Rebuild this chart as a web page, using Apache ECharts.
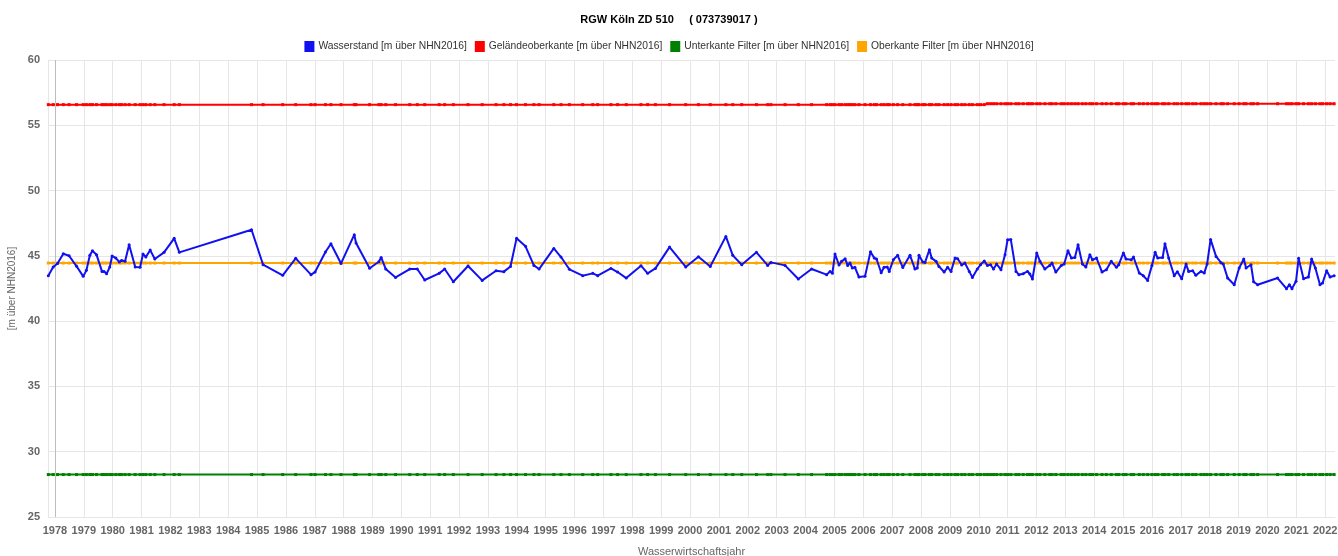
<!DOCTYPE html>
<html>
<head>
<meta charset="utf-8">
<title>RGW Köln ZD 510</title>
<script src="https://cdn.jsdelivr.net/npm/echarts@6/dist/echarts.min.js"></script>
<style>
    html, body { margin: 0; padding: 0; background: #fff; }
    #chart { width: 1338px; height: 556px; }
</style>
</head>
<body>
<div id="chart"></div>
<script>
// measurement dates as decimal years
const dates = [
    1977.77, 1977.94, 1978.09, 1978.29, 1978.49, 1978.75, 1978.98, 1979.09, 1979.21, 1979.30,
    1979.44, 1979.63, 1979.70, 1979.79, 1979.90, 1979.98, 1980.11, 1980.23, 1980.31, 1980.43,
    1980.57, 1980.78, 1980.95, 1981.05, 1981.15, 1981.30, 1981.46, 1981.78, 1982.13, 1982.31,
    1984.81, 1985.21, 1985.89, 1986.34, 1986.87, 1987.01, 1987.37, 1987.56, 1987.91, 1988.37,
    1988.43, 1988.90, 1989.22, 1989.30, 1989.46, 1989.80, 1990.29, 1990.55, 1990.81, 1991.31,
    1991.50, 1991.80, 1992.31, 1992.80, 1993.28, 1993.55, 1993.78, 1993.99, 1994.30, 1994.59,
    1994.77, 1995.28, 1995.53, 1995.82, 1996.28, 1996.63, 1996.80, 1997.26, 1997.49, 1997.79,
    1998.30, 1998.53, 1998.80, 1999.29, 1999.85, 2000.29, 2000.70, 2001.24, 2001.48, 2001.79,
    2002.30, 2002.69, 2002.80, 2003.29, 2003.75, 2004.21, 2004.73, 2004.85, 2004.93, 2005.02,
    2005.16, 2005.25, 2005.37, 2005.46, 2005.54, 2005.62, 2005.71, 2005.85, 2006.06, 2006.25,
    2006.38, 2006.46, 2006.62, 2006.72, 2006.83, 2006.90, 2007.04, 2007.19, 2007.37, 2007.62,
    2007.79, 2007.87, 2007.93, 2008.06, 2008.14, 2008.29, 2008.37, 2008.52, 2008.62, 2008.80,
    2008.92, 2009.04, 2009.18, 2009.27, 2009.41, 2009.52, 2009.67, 2009.78, 2009.95, 2010.06,
    2010.19, 2010.30, 2010.41, 2010.51, 2010.62, 2010.77, 2010.91, 2011.00, 2011.11, 2011.29,
    2011.39, 2011.54, 2011.69, 2011.77, 2011.86, 2012.01, 2012.12, 2012.29, 2012.46, 2012.54,
    2012.67, 2012.86, 2012.96, 2013.09, 2013.21, 2013.33, 2013.44, 2013.59, 2013.71, 2013.85,
    2013.94, 2014.08, 2014.27, 2014.42, 2014.59, 2014.77, 2014.85, 2015.01, 2015.10, 2015.28,
    2015.36, 2015.56, 2015.70, 2015.85, 2016.00, 2016.11, 2016.20, 2016.37, 2016.45, 2016.58,
    2016.77, 2016.88, 2017.03, 2017.18, 2017.27, 2017.41, 2017.52, 2017.70, 2017.81, 2017.91,
    2018.03, 2018.22, 2018.39, 2018.47, 2018.62, 2018.85, 2019.02, 2019.18, 2019.26, 2019.43,
    2019.52, 2019.66, 2020.35, 2020.66, 2020.76, 2020.85, 2020.99, 2021.08, 2021.25, 2021.42,
    2021.53, 2021.66, 2021.82, 2021.91, 2022.05, 2022.17, 2022.31
];

// Wasserstand [m über NHN2016]
const wasserstand = [
    43.48, 44.14, 44.42, 45.16, 45.01, 44.20, 43.43, 43.89, 45.04, 45.39,
    45.09, 43.81, 43.81, 43.63, 44.14, 44.99, 44.83, 44.53, 44.65, 44.58,
    45.85, 44.14, 44.12, 45.14, 44.91, 45.44, 44.76, 45.27, 46.34, 45.27,
    47.00, 44.32, 43.51, 44.81, 43.56, 43.76, 45.29, 45.93, 44.42, 46.62,
    45.98, 44.05, 44.55, 44.88, 43.99, 43.35, 43.99, 43.99, 43.15, 43.66,
    43.99, 43.02, 44.22, 43.12, 43.86, 43.79, 44.19, 46.34, 45.73, 44.27,
    43.99, 45.57, 44.91, 43.97, 43.48, 43.66, 43.48, 44.04, 43.76, 43.30,
    44.25, 43.66, 44.04, 45.67, 44.15, 44.93, 44.19, 46.49, 45.04, 44.32,
    45.27, 44.27, 44.50, 44.27, 43.23, 43.99, 43.56, 43.81, 43.66, 45.14,
    44.30, 44.58, 44.78, 44.27, 44.45, 44.07, 44.12, 43.38, 43.43, 45.32,
    44.83, 44.76, 43.71, 44.12, 44.14, 43.81, 44.70, 45.04, 44.10, 45.04,
    43.99, 44.07, 45.04, 44.53, 44.50, 45.47, 44.83, 44.58, 44.19, 43.76,
    44.12, 43.81, 44.83, 44.78, 44.30, 44.45, 43.81, 43.35, 43.99, 44.32,
    44.60, 44.27, 44.32, 43.99, 44.37, 43.94, 45.09, 46.24, 46.26, 43.81,
    43.56, 43.63, 43.81, 43.61, 43.23, 45.22, 44.58, 43.99, 44.27, 44.45,
    43.76, 44.27, 44.37, 45.39, 44.83, 44.88, 45.85, 44.37, 44.14, 45.09,
    44.70, 44.83, 43.76, 43.94, 44.58, 44.12, 44.32, 45.22, 44.76, 44.70,
    44.91, 43.68, 43.48, 43.12, 44.27, 45.27, 44.83, 44.88, 45.93, 44.83,
    43.48, 43.79, 43.25, 44.37, 43.81, 43.86, 43.51, 43.81, 43.68, 44.37,
    46.26, 44.96, 44.48, 44.37, 43.30, 42.79, 44.07, 44.76, 44.07, 44.32,
    43.02, 42.79, 43.30, 42.49, 42.79, 42.49, 43.05, 44.81, 43.25, 43.38,
    44.76, 44.07, 42.79, 42.92, 43.86, 43.38, 43.48
];

// fixed levels of the well
const gelaendeAlt = 56.58;     // Geländeoberkante before re-survey
const gelaendeNeu = 56.65;     // Geländeoberkante after re-survey
const gelaendeWechsel = 2010.30;
const unterkanteFilter = 28.25;
const oberkanteFilter = 44.45;

const yearTicks = [];
for (let y = 1978; y <= 2022; y++) yearTicks.push(y);

const seriesNames = [
    'Wasserstand [m über NHN2016]',
    'Geländeoberkante [m über NHN2016]',
    'Unterkante Filter [m über NHN2016]',
    'Oberkante Filter [m über NHN2016]'
];

const chart = echarts.init(document.getElementById('chart'));

function levelLine(level) {
    return dates.map(d => [d, typeof level === 'function' ? level(d) : level]);
}

const gridColor = '#e6e6e6';
const font = 'Liberation Sans, Arial, sans-serif';

const option = {
    animation: false,
    textStyle: { fontFamily: font },
    title: {
        text: 'RGW Köln ZD 510     ( 073739017 )',
        left: 'center',
        top: 9,
        textStyle: { fontSize: 11, fontWeight: 'bold', color: '#000', fontFamily: font }
    },
    legend: {
        top: 36,
        left: 'center',
        itemWidth: 10,
        itemHeight: 11,
        itemGap: 8,
        icon: 'rect',
        textStyle: { fontSize: 10.3, color: '#333', padding: [0, 0, 0, -1] },
        data: seriesNames
    },
    grid: { left: 48, right: 3, top: 60, bottom: 39, outerBoundsMode: 'none' },
    xAxis: {
        type: 'value',
        min: 1977.76,
        max: 2022.34,
        name: 'Wasserwirtschaftsjahr',
        nameLocation: 'middle',
        nameGap: 29,
        nameTextStyle: { fontSize: 11, color: '#666' },
        axisLine: { lineStyle: { color: gridColor } },
        axisTick: { show: false, customValues: yearTicks },
        axisLabel: {
            customValues: yearTicks,
            fontSize: 11,
            fontWeight: 'bold',
            color: '#666',
            margin: 8,
            formatter: v => String(Math.round(v))
        },
        splitLine: { show: true, lineStyle: { color: gridColor } }
    },
    yAxis: {
        type: 'value',
        min: 25,
        max: 60,
        interval: 5,
        name: '[m über NHN2016]',
        nameLocation: 'middle',
        nameGap: 24,
        nameTextStyle: { fontSize: 10, color: '#666' },
        axisLine: { show: true, lineStyle: { color: gridColor } },
        axisTick: { show: false },
        axisLabel: { fontSize: 11, fontWeight: 'bold', color: '#666', margin: 8 },
        splitLine: { lineStyle: { color: gridColor } }
    },
    series: [
        {
            name: seriesNames[0],
            type: 'line',
            z: 5,
            data: dates.map((d, i) => [d, wasserstand[i]]),
            symbol: 'circle',
            symbolSize: 3,
            showSymbol: true,
            color: '#1010f0',
            lineStyle: { width: 2, color: '#1010f0' },
            markLine: {
                silent: true,
                symbol: 'none',
                label: { show: false },
                lineStyle: { color: '#bdbdbd', width: 1, type: 'solid' },
                data: [{ xAxis: 1978 }]
            }
        },
        {
            name: seriesNames[1],
            type: 'line',
            z: 3,
            data: levelLine(d => d < gelaendeWechsel ? gelaendeAlt : gelaendeNeu),
            symbol: 'rect',
            symbolSize: 3,
            color: '#ff0000',
            lineStyle: { width: 2, color: '#ff0000' }
        },
        {
            name: seriesNames[2],
            type: 'line',
            z: 3,
            data: levelLine(unterkanteFilter),
            symbol: 'rect',
            symbolSize: 3,
            color: '#008000',
            lineStyle: { width: 2, color: '#008000' }
        },
        {
            name: seriesNames[3],
            type: 'line',
            z: 3,
            data: levelLine(oberkanteFilter),
            symbol: 'rect',
            symbolSize: 3,
            color: '#ffa500',
            lineStyle: { width: 2, color: '#ffa500' }
        }
    ]
};

chart.setOption(option);
</script>
</body>
</html>
